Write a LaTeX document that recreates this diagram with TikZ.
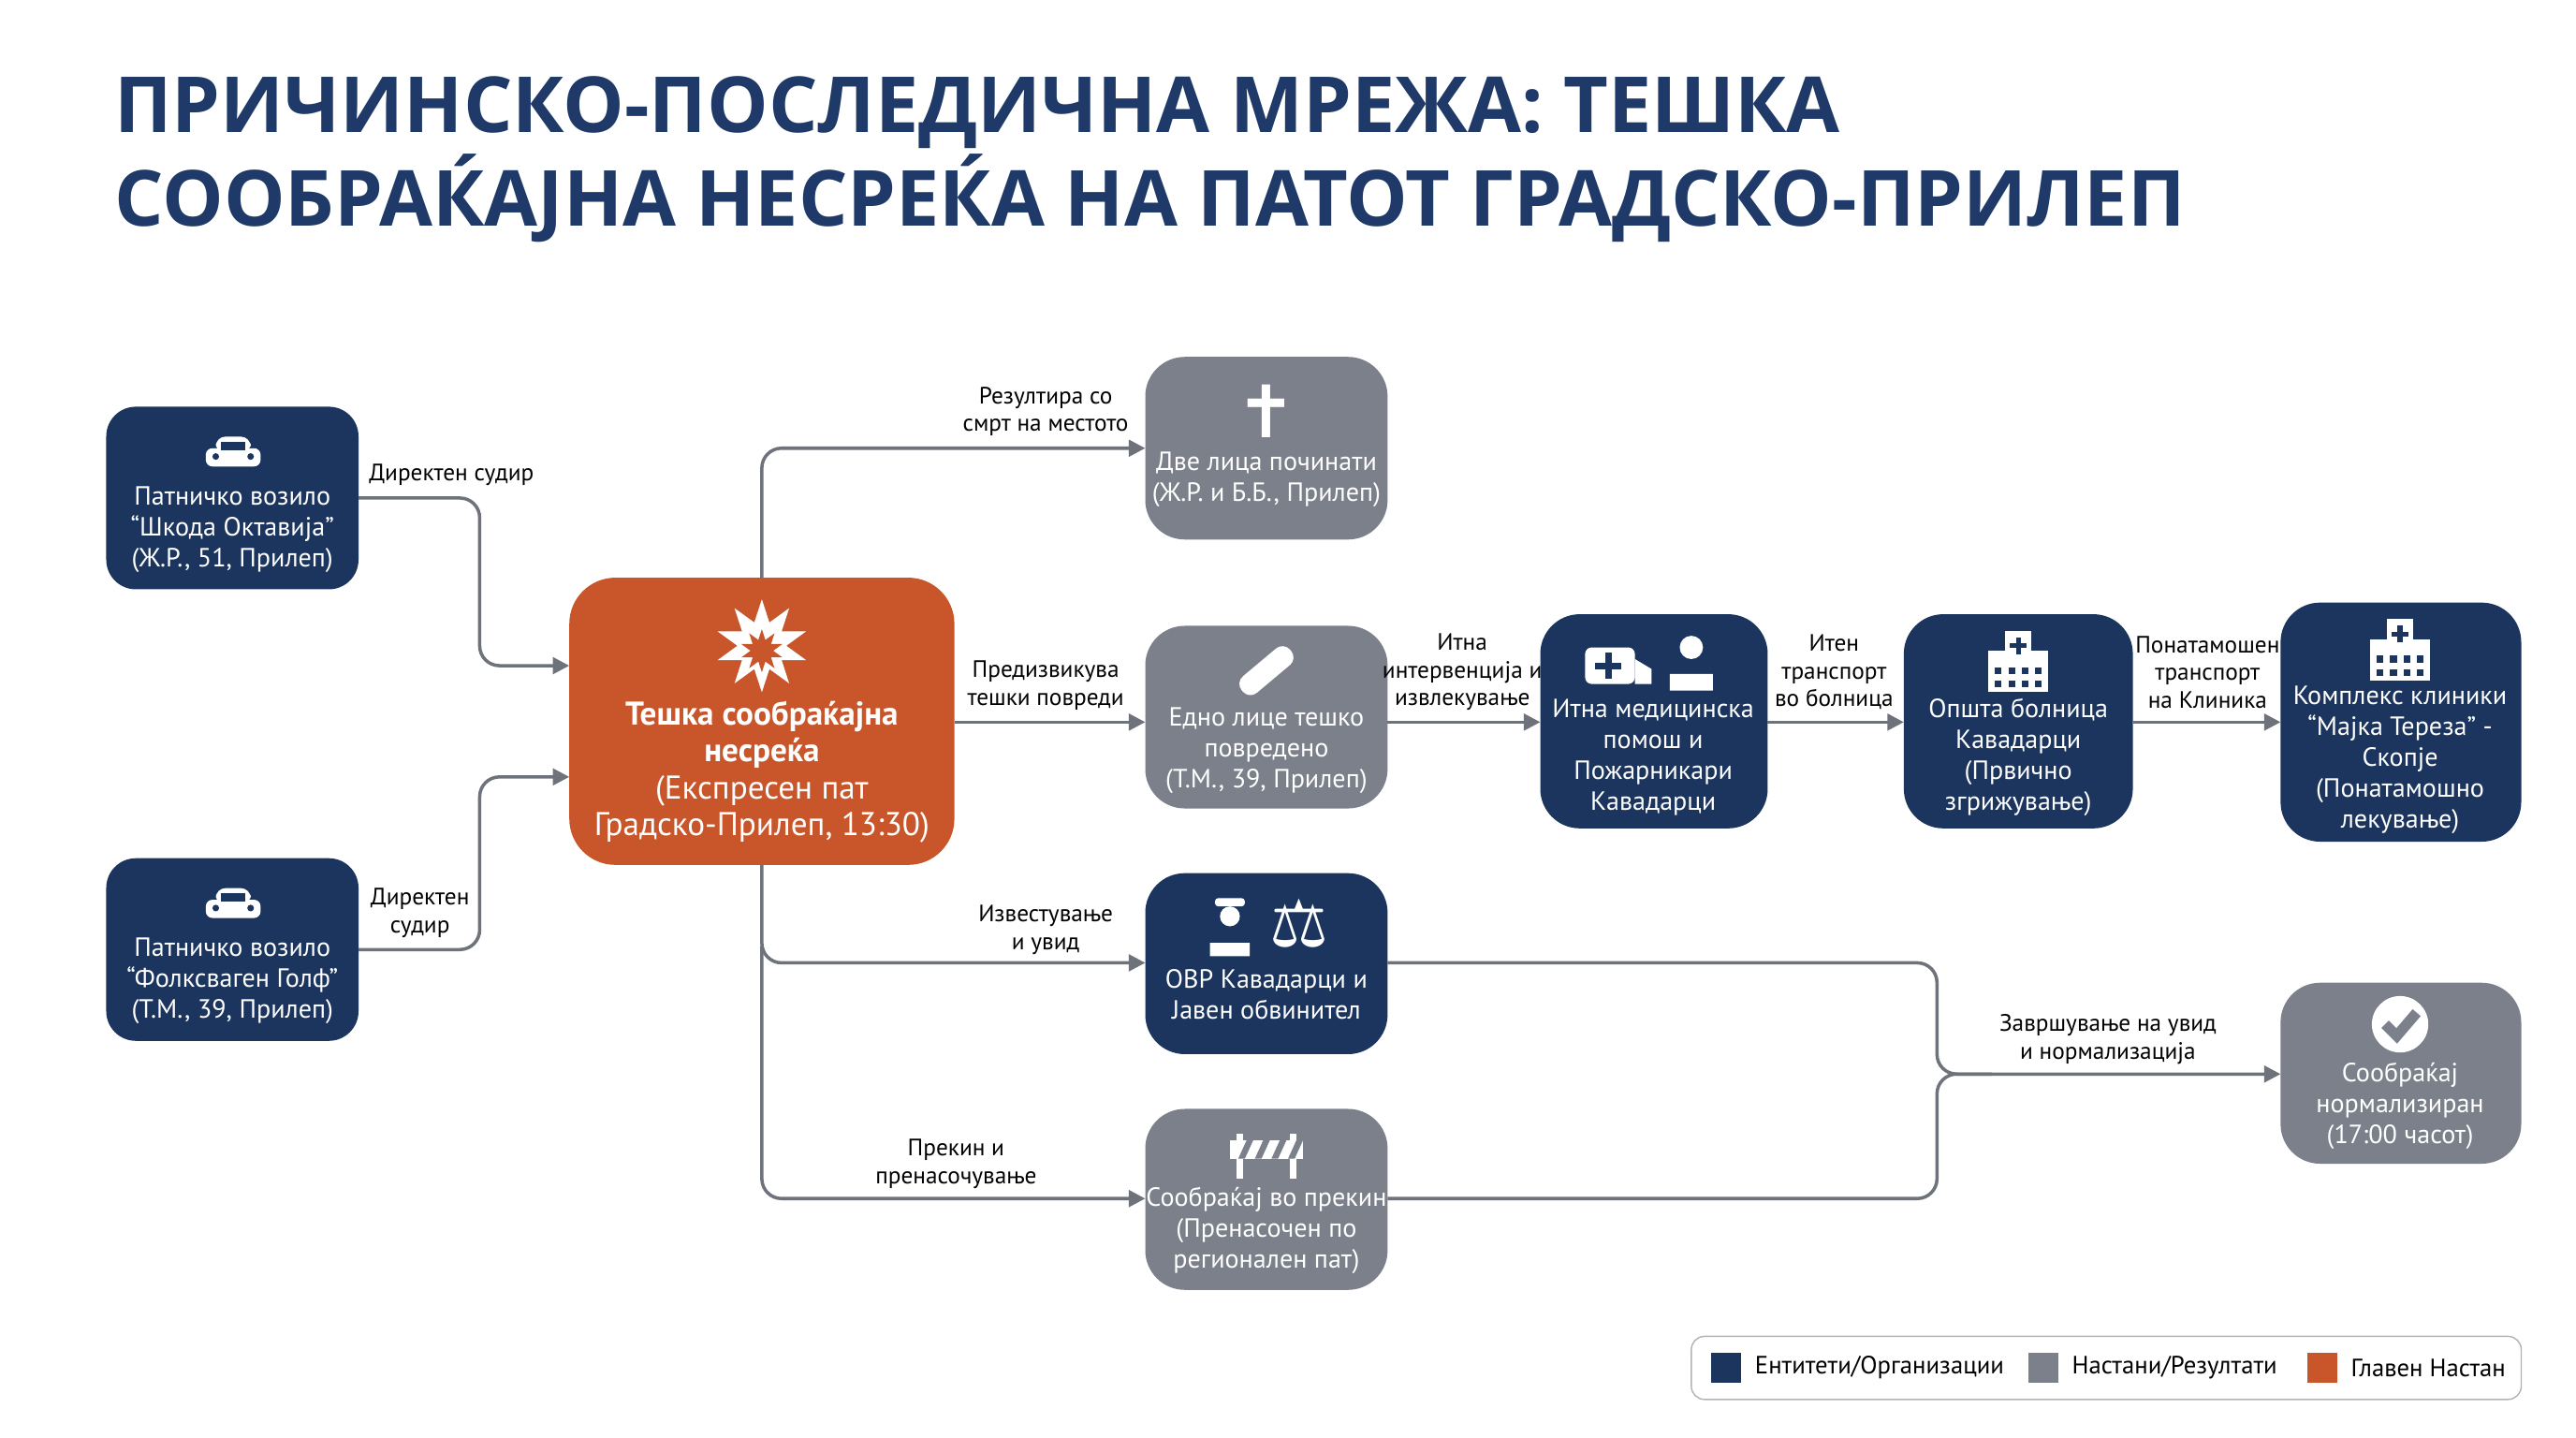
\documentclass[tikz,border=0pt]{standalone}
\usepackage{fontspec}
\setmainfont{PT Sans}
\newfontfamily\titlefont{Open Sans}
\newfontfamily\sym{DejaVu Sans}
\usetikzlibrary{arrows.meta,shapes.geometric}
\definecolor{navy}{HTML}{1C355E}
\definecolor{gr}{HTML}{7B808B}
\definecolor{org}{HTML}{C8562A}
\definecolor{ln}{HTML}{6E727A}
\definecolor{ttl}{HTML}{1F3A68}
\begin{document}
\begin{tikzpicture}[x=0.1773mm,y=-0.1773mm,
 box/.style={draw=none,rounded corners=9pt,inner sep=0pt,text=white,align=center,font=\fontsize{8}{9.4}\selectfont},
 conn/.style={draw=ln,line width=1pt,rounded corners=6pt,-{Triangle[length=5pt,width=5pt]}},
 lab/.style={font=\fontsize{7.2}{8.4}\selectfont,align=center,text=black,inner sep=1pt}]
\useasboundingbox (0,0) rectangle (1552,866);
\node[anchor=west,text=ttl,font=\titlefont\bfseries\fontsize{23.5}{28.5}\selectfont,align=left] at (62,96) {ПРИЧИНСКО-ПОСЛЕДИЧНА МРЕЖА: ТЕШКА\\СООБРАЌАЈНА НЕСРЕЌА НА ПАТОТ ГРАДСКО-ПРИЛЕП};
% boxes
\fill[navy,rounded corners=9pt] (64,245) rectangle (216,355);
\node[box] (t1) at (140,319) {Патничко возило\\“Шкода Октавија”\\(Ж.Р., 51, Прилеп)};
\fill[navy,rounded corners=9pt] (64,517) rectangle (216,627);
\node[box] (t2) at (140,591) {Патничко возило\\“Фолксваген Голф”\\(Т.М., 39, Прилеп)};
\foreach \y in {273,545}{
 \fill[white,rounded corners=2pt] (124,\y-3) rectangle (157,\y+8);
 \fill[white,rounded corners=3pt] (130,\y-10) rectangle (151,\y);
 \fill[navy] (133,\y-7) rectangle (148,\y-2);
 \fill[navy] (130,\y+2) circle (2); \fill[navy] (151,\y+2) circle (2);}
\fill[org,rounded corners=14pt] (343,348) rectangle (575,521);
\node[star,star points=10,star point ratio=1.9,fill=white,minimum size=56*0.1773mm,inner sep=0] at (459,389) {};
\node[star,star points=10,star point ratio=1.9,fill=org,minimum size=26*0.1773mm,inner sep=0] at (459,392) {};
\node[box,font=\fontsize{10}{11.2}\selectfont] at (459,465) {\textbf{Тешка сообраќајна}\\\textbf{несреќа}\\(Експресен пат\\Градско-Прилеп, 13:30)};
\fill[gr,rounded corners=12pt] (690,215) rectangle (836,325);
\node[box,font=\sym\fontsize{22}{22}\selectfont] at (763,248) {✝};
\node[box] at (763,289) {Две лица починати\\(Ж.Р. и Б.Б., Прилеп)};
\fill[gr,rounded corners=12pt] (690,377) rectangle (836,487);
\node[box,rotate=40,fill=white,minimum width=38*0.1773mm,minimum height=13*0.1773mm,rounded corners=3pt] at (763,404) {};
\node[box] at (763,452) {Едно лице тешко\\повредено\\(Т.М., 39, Прилеп)};
\fill[navy,rounded corners=12pt] (928,370) rectangle (1065,499);
\fill[white,rounded corners=2pt] (955,390) rectangle (985,412); \fill[white] (985,397)--(995,403)--(995,412)--(985,412)--cycle;
\fill[navy] (967,393) rectangle (971,409); \fill[navy] (961,399) rectangle (977,403);
\fill[white] (1019,390) circle (7); \fill[white] (1006,416) rectangle (1032,406) arc(0:180:13 and 8);
\node[box] at (996,456) {Итна медицинска\\помош и\\Пожарникари\\Кавадарци};
\fill[navy,rounded corners=12pt] (1147,370) rectangle (1285,499);
\fill[navy,rounded corners=12pt] (1374,363) rectangle (1519,507);
\foreach \x/\y in {1216/400,1446/393}{
 \fill[white] (\x-18,\y-8) rectangle (\x+18,\y+17); \fill[white] (\x-8,\y-20) rectangle (\x+8,\y);
 \fill[navy] (\x-1.5,\y-16) rectangle (\x+1.5,\y-6); \fill[navy] (\x-5,\y-12.5) rectangle (\x+5,\y-9.5);
 \foreach \i in {-12,-4,4,12}{\fill[navy] (\x+\i-2,\y+2) rectangle (\x+\i+2,\y+6);\fill[navy] (\x+\i-2,\y+10) rectangle (\x+\i+2,\y+14);}}
\node[box] at (1216,456) {Општа болница\\Кавадарци\\(Првично\\згрижување)};
\node[box] at (1446,458) {Комплекс клиники\\“Мајка Тереза” -\\Скопје\\(Понатамошно\\лекување)};
\fill[navy,rounded corners=12pt] (690,526) rectangle (836,635);
\fill[white] (741,552) circle (6); \fill[white] (729,576) rectangle (753,568) arc(0:180:12 and 7); \fill[white,rounded corners=1pt] (732,546) rectangle (750,541);
\node[box,font=\sym\fontsize{20}{20}\selectfont] at (783,556) {⚖};
\node[box] at (763,599) {ОВР Кавадарци и\\Јавен обвинител};
\fill[gr,rounded corners=12pt] (690,668) rectangle (836,777);
\fill[white] (745,683) rectangle (749,710); \fill[white] (777,683) rectangle (781,710);
\fill[white] (741,687) rectangle (785,698);
\foreach \i in {0,1,2,3}{\fill[gr] (746+\i*10,698)--(751+\i*10,687)--(755+\i*10,687)--(750+\i*10,698)--cycle;}
\node[box] at (763,741) {Сообраќај во прекин\\(Пренасочен по\\регионален пат)};
\fill[gr,rounded corners=12pt] (1374,592) rectangle (1519,701);
\fill[white] (1446,617) circle (17);
\draw[gr,line width=3.2pt] (1437,617)--(1444,624)--(1456,610);
\node[box] at (1446,666) {Сообраќај\\нормализиран\\(17:00 часот)};
% connectors
\draw[conn] (216,300) -- (289,300) -- (289,401) -- (343,401);
\node[lab] at (272,286) {Директен судир};
\draw[conn] (216,572) -- (289,572) -- (289,468) -- (343,468);
\node[lab] at (253,550) {Директен\\судир};
\draw[conn] (459,348) -- (459,270) -- (690,270);
\node[lab] at (630,248) {Резултира со\\смрт на местото};
\draw[conn] (575,435) -- (690,435);
\node[lab] at (630,413) {Предизвикува\\тешки повреди};
\draw[conn] (836,435) -- (928,435);
\node[lab] at (881,405) {Итна\\интервенција и\\извлекување};
\draw[conn] (1065,435) -- (1147,435);
\node[lab] at (1105,405) {Итен\\транспорт\\во болница};
\draw[conn] (1285,435) -- (1374,435);
\node[lab] at (1330,405) {Понатамошен\\транспорт\\на Клиника};
\draw[conn] (459,521) -- (459,580) -- (690,580);
\node[lab] at (630,560) {Известување\\и увид};
\draw[conn] (459,570) -- (459,722) -- (690,722);
\node[lab] at (576,701) {Прекин и\\пренасочување};
\draw[draw=ln,line width=1pt,rounded corners=6pt] (836,580) -- (1167,580) -- (1167,647) -- (1200,647);
\draw[conn] (836,722) -- (1167,722) -- (1167,647) -- (1374,647);
\node[lab] at (1270,626) {Завршување на увид\\и нормализација};
% legend
\draw[gray!60,rounded corners=4pt,fill=white] (1019,805) rectangle (1519,843);
\fill[navy] (1031,815) rectangle (1049,833); \node[lab,anchor=west,font=\fontsize{7.6}{9}\selectfont] at (1055,824) {Ентитети/Организации};
\fill[gr] (1222,815) rectangle (1240,833); \node[lab,anchor=west,font=\fontsize{7.6}{9}\selectfont] at (1246,824) {Настани/Резултати};
\fill[org] (1390,815) rectangle (1408,833); \node[lab,anchor=west,font=\fontsize{7.6}{9}\selectfont] at (1414,824) {Главен Настан};
\end{tikzpicture}
\end{document}
